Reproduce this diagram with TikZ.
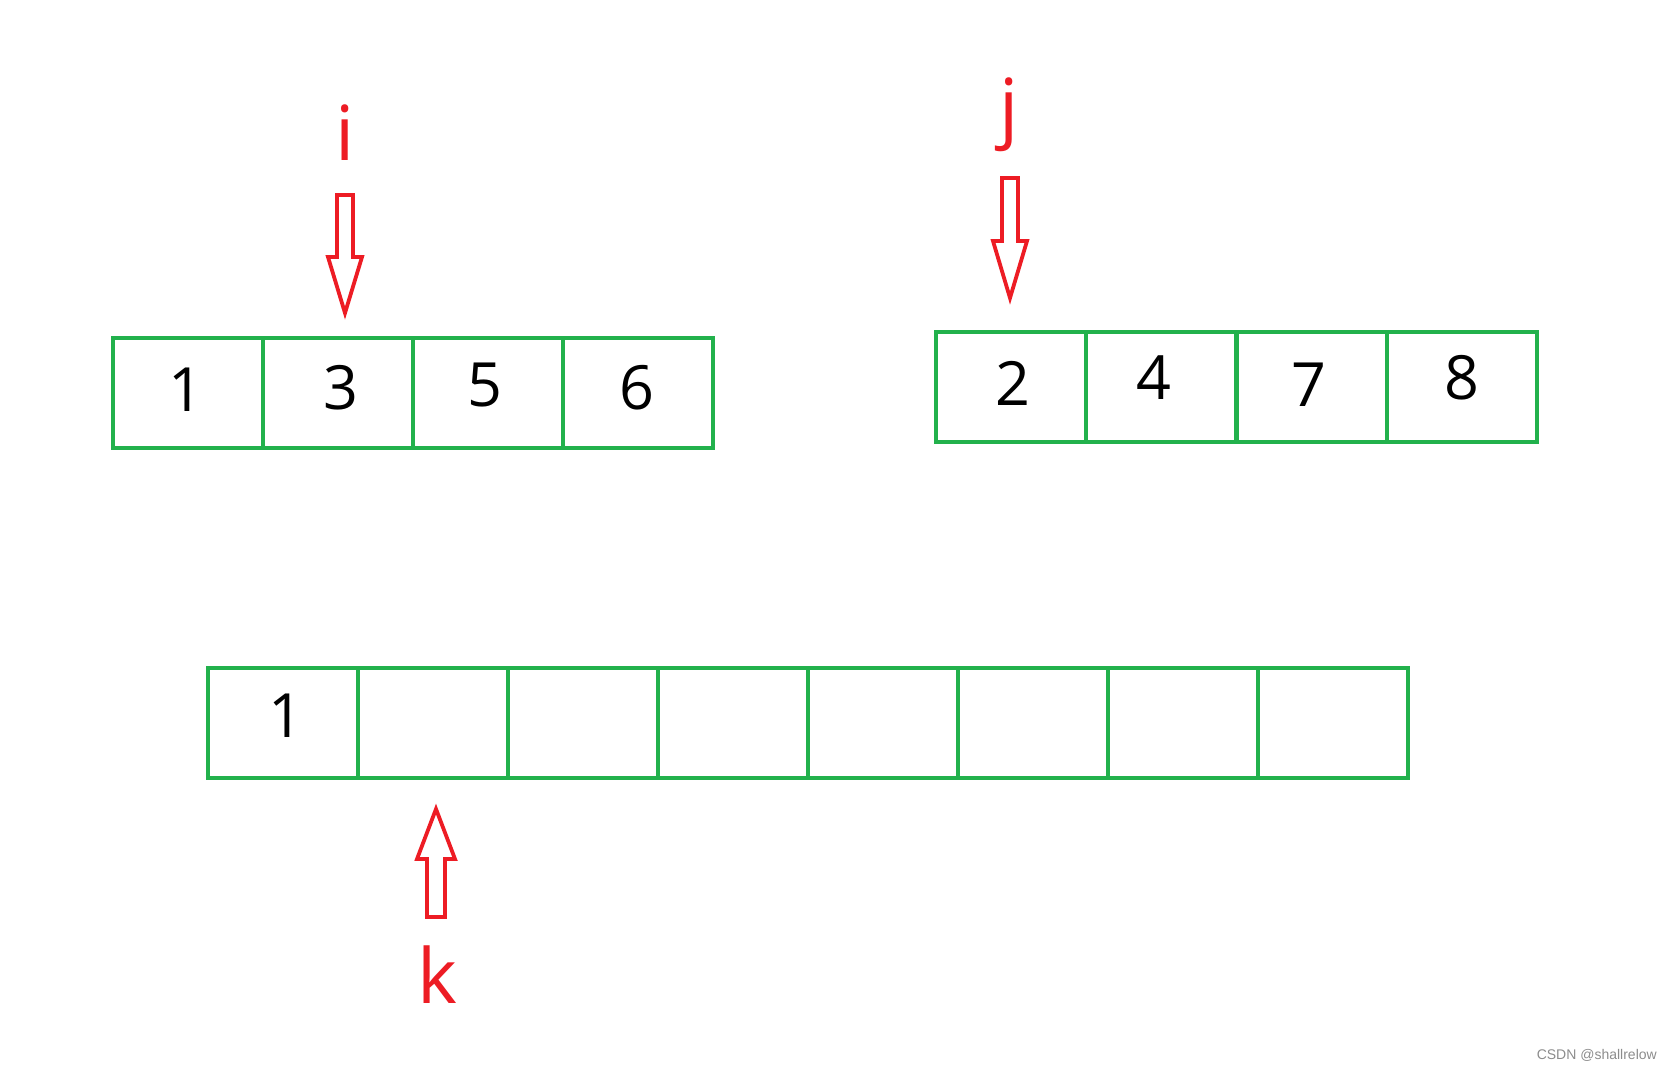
\documentclass[tikz,border=0pt]{standalone}
\usepackage{fontspec}
\setmainfont{Open Sans}
\newfontfamily\wmfont{Liberation Sans}
\definecolor{paintgreen}{HTML}{22B14C}
\definecolor{paintred}{HTML}{ED1C24}
\begin{document}
\begin{tikzpicture}[x=1pt,y=-1pt,
  cellbox/.style={draw=paintgreen,line width=4pt,minimum width=150pt,minimum height=110pt,inner sep=0pt,outer sep=0pt},
  digit/.style={font=\fontsize{61}{61}\selectfont,inner sep=0pt},
  letter/.style={font=\fontsize{76}{76}\selectfont,text=paintred,inner sep=0pt,anchor=base},
  redarrow/.style={draw=paintred,line width=3.8pt,fill=white}]
\useasboundingbox (0,0) rectangle (1673,1069);
% top-left array
\foreach \n/\x in {1/188,2/338,3/488,4/638}{
  \node[cellbox] (a\n) at (\x,393) {};
}
\node[digit] (da1) at (186,390) {1};
\node[digit] (da2) at (341,388) {3};
\node[digit] (da3) at (485,385) {5};
\node[digit] (da4) at (637,388) {6};
% top-right array
\foreach \n/\x in {1/1011,2/1161,3/1312,4/1462}{
  \node[cellbox] (b\n) at (\x,387) {};
}
\node[digit] (db1) at (1013,383) {2};
\node[digit] (db2) at (1154,378) {4};
\node[digit] (db3) at (1309,385) {7};
\node[digit] (db4) at (1462,378) {8};
% bottom array
\foreach \n/\x in {1/283,2/433,3/583,4/733,5/883,6/1033,7/1183,8/1333}{
  \node[cellbox] (c\n) at (\x,723) {};
}
\node[digit] (dc1) at (286,716) {1};
% pointers
\coordinate (ti) at (345,313);
\coordinate (tj) at (1010,298);
\coordinate (tk) at (436,809);
\draw[redarrow,shift={(ti)}] (0,0) -- (17,-56) -- (8,-56) -- (8,-118) -- (-8,-118) -- (-8,-56) -- (-17,-56) -- cycle;
\draw[redarrow,shift={(tj)}] (0,0) -- (17,-57) -- (8,-57) -- (8,-120) -- (-8,-120) -- (-8,-57) -- (-17,-57) -- cycle;
\draw[redarrow,shift={(tk)}] (0,0) -- (19,50) -- (9,50) -- (9,108) -- (-9,108) -- (-9,50) -- (-19,50) -- cycle;
\node[letter] (li) at (345,160) {i};
\node[letter] (lj) at (1009,133) {j};
\node[letter] (lk) at (437,1003) {k};
% watermark
\node[font=\wmfont\fontsize{14}{14}\selectfont,text=black!45,anchor=base east,inner sep=0pt] (wm) at (1657,1059) {CSDN @shallrelow};
\end{tikzpicture}
\end{document}
